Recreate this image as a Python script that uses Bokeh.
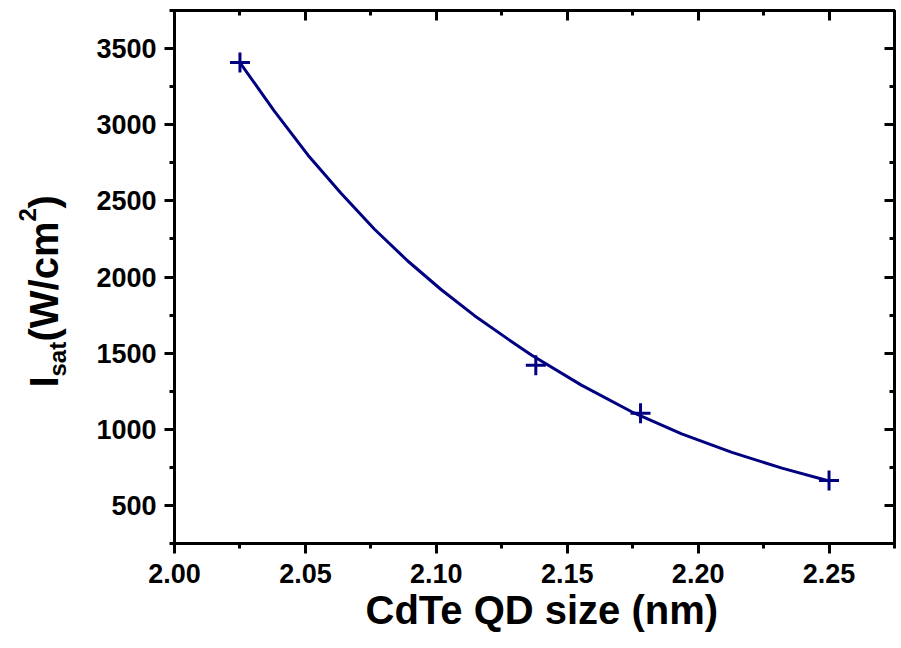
import math
from bokeh.plotting import figure
from bokeh.models import (LinearAxis, SingleIntervalTicker, PrintfTickFormatter,
                          Range1d, Title)
from bokeh.layouts import row
from bokeh.core.properties import value
from bokeh.embed import file_html
from bokeh.resources import INLINE

# ---- data ----
size_nm = [2.025, 2.138, 2.178, 2.250]
isat = [3408, 1421, 1105, 664]

fit_x = [2.025, 2.038, 2.051, 2.0636, 2.0763, 2.0891, 2.1018, 2.1146, 2.1274,
         2.1363, 2.1554, 2.1746, 2.1937, 2.2129, 2.2320, 2.250]
fit_y = [3408, 3092, 2800, 2550, 2315, 2105, 1918, 1746, 1592,
         1488, 1290, 1115, 970, 848, 745, 660]

x_label = "CdTe QD size (nm)"
y_label_parts = ["I", "sat", "(W/cm", "2", ")"]

NAVY = "#000080"
FONT = "Liberation Sans"

TOTAL_W, TOTAL_H = 896, 645
YT_W = 90                 # strip holding the y title
FRAME_TOP, FRAME_BOTTOM = 10, 543

# ---------------- main plot ----------------
p = figure(width=TOTAL_W - YT_W, height=TOTAL_H, output_backend="svg",
           toolbar_location=None,
           x_range=Range1d(2.0, 2.275), y_range=Range1d(250, 3750),
           x_axis_location=None, y_axis_location=None,
           min_border_left=174 - YT_W, min_border_right=2,
           min_border_top=FRAME_TOP, min_border_bottom=TOTAL_H - FRAME_BOTTOM)
p.grid.visible = False
p.outline_line_color = "black"
p.outline_line_width = 3
p.background_fill_color = "white"
p.border_fill_color = "white"

xt = SingleIntervalTicker(interval=0.05, num_minor_ticks=2)
yt = SingleIntervalTicker(interval=500, num_minor_ticks=2)


def style(ax, show_labels, inward):
    ax.axis_line_width = 3
    ax.axis_line_color = "black"
    ax.major_tick_line_width = 3
    ax.minor_tick_line_width = 3
    ax.major_tick_line_color = "black"
    ax.minor_tick_line_color = "black"
    if inward:
        ax.major_tick_in, ax.major_tick_out = 10, 0
        ax.minor_tick_in, ax.minor_tick_out = 5, 0
    else:
        ax.major_tick_in, ax.major_tick_out = 0, 10
        ax.minor_tick_in, ax.minor_tick_out = 0, 5
    if show_labels:
        ax.major_label_text_font = FONT
        ax.major_label_text_font_style = "bold"
        ax.major_label_text_font_size = "27px"
        ax.major_label_text_color = "black"
    else:
        ax.major_label_text_color = None
        ax.major_label_text_font_size = "1px"
        ax.major_label_standoff = 0
        ax.axis_label_standoff = 0


bottom = LinearAxis(ticker=xt, formatter=PrintfTickFormatter(format="%.2f"))
style(bottom, True, False)
bottom.major_label_standoff = 10
p.add_layout(bottom, "below")

left = LinearAxis(ticker=yt, formatter=PrintfTickFormatter(format="%d"))
style(left, True, False)
left.major_label_standoff = 8
p.add_layout(left, "left")

top = LinearAxis(ticker=xt)
style(top, False, True)
p.add_layout(top, "above")

right = LinearAxis(ticker=yt)
style(right, False, True)
p.add_layout(right, "right")

# x title (left-aligned in its panel, shifted by an offset from the frame's left)
p.add_layout(Title(text=x_label, align="left", offset=191, standoff=1,
                   text_font=FONT, text_font_style="bold", text_font_size="40px",
                   text_color="black"), "below")

p.line(fit_x, fit_y, line_color=NAVY, line_width=3)
p.scatter(size_nm, isat, marker="cross", size=20, line_color=NAVY, line_width=3)

# ---------------- y title strip (frame aligned with the main frame) ----------------
yfig = figure(width=YT_W, height=TOTAL_H, output_backend="svg", toolbar_location=None,
              x_range=Range1d(0, YT_W), y_range=Range1d(0, FRAME_BOTTOM - FRAME_TOP),
              x_axis_location=None, y_axis_location=None,
              min_border_left=0, min_border_right=0,
              min_border_top=FRAME_TOP, min_border_bottom=TOTAL_H - FRAME_BOTTOM)
yfig.grid.visible = False
yfig.outline_line_color = None
yfig.background_fill_color = "white"
yfig.border_fill_color = "white"

# (text, centre-line x in page px, start y in page px, size)
pieces = [
    (y_label_parts[0], 43, 387, "40px"),
    (y_label_parts[1], 57, 376, "24px"),
    (y_label_parts[2], 43, 341, "40px"),
    (y_label_parts[3], 27, 221, "24px"),
    (y_label_parts[4], 43, 208, "40px"),
]
for txt, px, py, fs in pieces:
    yfig.text(x=[px], y=[FRAME_BOTTOM - py], text=[txt], angle=math.pi / 2,
              text_align="left", text_baseline="middle",
              text_font=value(FONT), text_font_style="bold",
              text_font_size=fs, text_color="black")

layout = row(yfig, p, spacing=0)
open("out.html", "w").write(file_html(layout, INLINE))
